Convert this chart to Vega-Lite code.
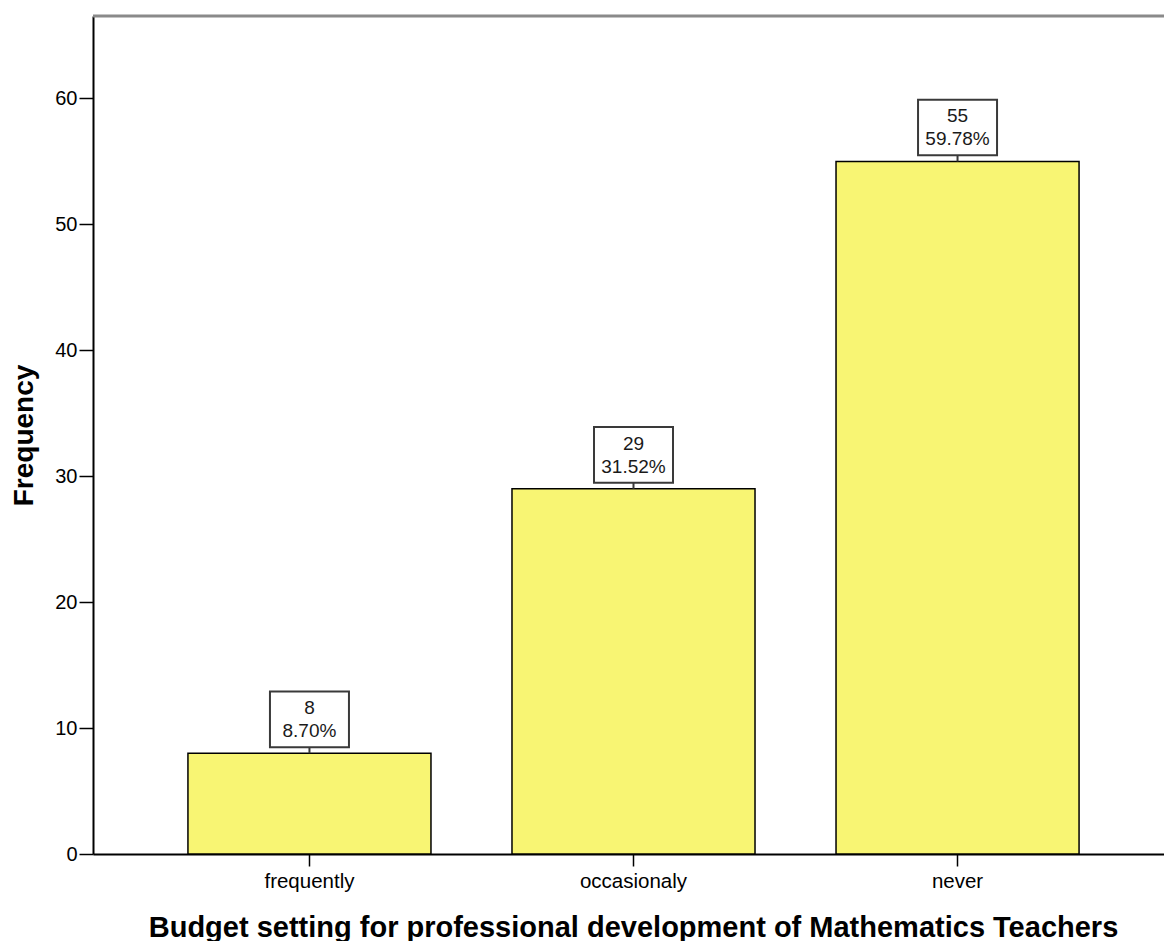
{
  "$schema": "https://vega.github.io/schema/vega-lite/v6.json",
  "autosize": "none",
  "width": 1071,
  "height": 838,
  "padding": {"left": 93, "top": 16, "right": 0, "bottom": 87},
  "background": "white",
  "config": {"view": {"stroke": null}, "font": "Liberation Sans"},
  "data": {"values": [
    {"category": "frequently", "count": 8, "percent": "8.70%"},
    {"category": "occasionaly", "count": 29, "percent": "31.52%"},
    {"category": "never", "count": 55, "percent": "59.78%"}
  ]},
  "transform": [{"calculate": "datum.count + '\\n' + datum.percent", "as": "label"}],
  "layer": [
    {
      "mark": {"type": "bar", "fill": "#f8f573", "stroke": "#000000", "strokeWidth": 1.5},
      "encoding": {
        "x": {
          "field": "category", "type": "nominal", "sort": null,
          "scale": {"range": [0, 1081], "paddingInner": 0.25, "paddingOuter": 0.293},
          "axis": {
            "title": "Budget setting for professional development of Mathematics Teachers",
            "titleFont": "Liberation Sans", "titleFontSize": 29, "titleFontWeight": "bold", "titleColor": "#000000",
            "titleBaseline": "alphabetic", "titleY": 82, "titleX": 540, "titleAlign": "center",
            "labelFont": "Liberation Sans", "labelFontSize": 20.5, "labelColor": "#000000", "labelPadding": 5, "labelAngle": 0,
            "tickSize": 12, "tickColor": "#000000", "tickWidth": 1.5,
            "domainColor": "#000000", "domainWidth": 2
          }
        },
        "y": {
          "field": "count", "type": "quantitative",
          "scale": {"domain": [0, 66.55], "nice": false},
          "axis": {
            "title": "Frequency",
            "titleFont": "Liberation Sans", "titleFontSize": 28, "titleFontWeight": "bold", "titleColor": "#000000",
            "titleAngle": -90, "titleBaseline": "alphabetic", "titleAlign": "center", "titleX": -61, "titleY": 419,
            "values": [0, 10, 20, 30, 40, 50, 60],
            "labelFont": "Liberation Sans", "labelFontSize": 20, "labelColor": "#000000", "labelPadding": 2,
            "tickSize": 14, "tickColor": "#000000", "tickWidth": 1.5,
            "domainColor": "#000000", "domainWidth": 2, "grid": false
          }
        }
      }
    },
    {
      "mark": {"type": "point", "shape": "M-1,-1.564H1V-0.154H-1ZM0,-0.154V0", "size": 6241, "filled": true, "fill": "#ffffff", "stroke": "#3a3a3a", "strokeWidth": 2, "opacity": 1},
      "encoding": {
        "x": {"field": "category", "type": "nominal", "sort": null},
        "y": {"field": "count", "type": "quantitative"}
      }
    },
    {
      "mark": {"type": "text", "dy": -45, "baseline": "middle", "align": "center", "lineBreak": "\n", "fontSize": 19, "lineHeight": 23, "font": "Liberation Sans", "color": "#1a1a1a"},
      "encoding": {
        "x": {"field": "category", "type": "nominal", "sort": null},
        "y": {"field": "count", "type": "quantitative"},
        "text": {"field": "label", "type": "nominal"}
      }
    },
    {
      "data": {"values": [{"top": 66.55}]},
      "mark": {"type": "rule", "color": "#8a8a8a", "strokeWidth": 3},
      "encoding": {
        "y": {"field": "top", "type": "quantitative"}
      }
    }
  ]
}
